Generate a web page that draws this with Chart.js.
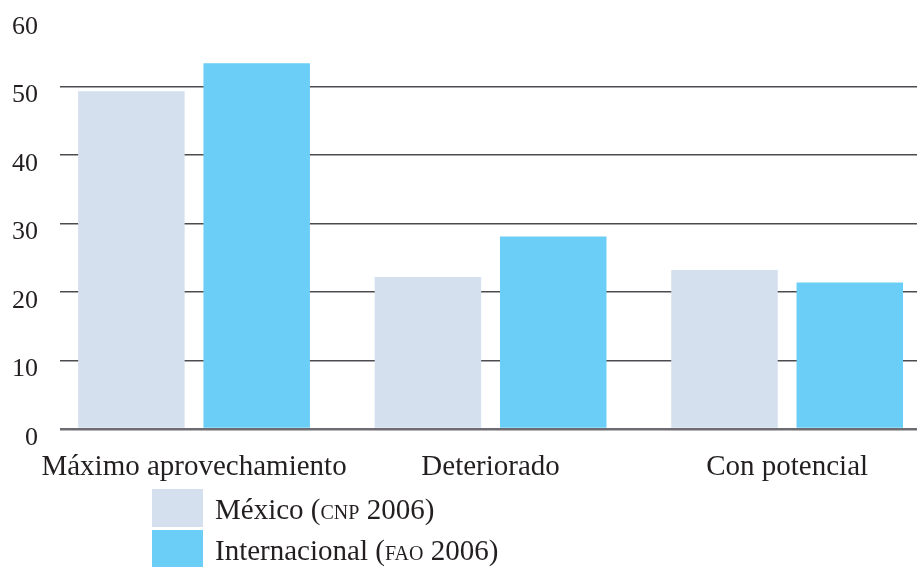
<!DOCTYPE html>
<html lang="es">
<head>
<meta charset="utf-8">
<title>Estado de las pesquerías</title>
<script src="https://cdn.jsdelivr.net/npm/chart.js@4/dist/chart.umd.min.js"></script>
<style>
  html, body { margin: 0; padding: 0; background: #ffffff; }
  #wrap { position: relative; width: 917px; height: 567px; overflow: hidden; }
  #legend {
    position: absolute; left: 152px; top: 489px;
    font-family: "Liberation Serif", "Times New Roman", serif;
    font-size: 29px; color: #231f20;
  }
  #legend .row { display: flex; align-items: center; height: 38px; margin-bottom: 3px; }
  #legend .box { width: 51px; height: 38px; margin-right: 12px; flex: none; }
  #legend .txt { line-height: 38px; white-space: nowrap; position: relative; top: 1px; }
  #legend .sc { font-variant: small-caps; }
</style>
</head>
<body>
<div id="wrap">
  <canvas id="chart" width="917" height="567"></canvas>
  <div id="legend"></div>
</div>
<script>
// Categories along the x axis
const categories = ['Máximo aprovechamiento', 'Deteriorado', 'Con potencial'];
// Percentage of fisheries in each state
const mexico = [49.3, 22.2, 23.2];
const internacional = [53.4, 28.1, 21.4];
// Series names
const seriesNames = ['México (CNP 2006)', 'Internacional (FAO 2006)'];
// Y axis ticks
const yTicks = [0, 10, 20, 30, 40, 50, 60];

const colors = ['#d4e0ee', '#6bcef6'];
const serif = '"Liberation Serif", "Times New Roman", serif';
const ink = '#231f20';

const toPoints = arr => arr.map((v, i) => ({ x: i, y: v }));

// Builds the legend below the chart from the datasets, source acronyms in small caps
const htmlLegend = {
  id: 'htmlLegend',
  afterUpdate(chart) {
    const host = document.getElementById('legend');
    host.innerHTML = '';
    chart.data.datasets.forEach(ds => {
      const row = document.createElement('div');
      row.className = 'row';
      const box = document.createElement('div');
      box.className = 'box';
      box.style.background = ds.backgroundColor;
      const txt = document.createElement('div');
      txt.className = 'txt';
      const parts = ds.label.split(/\b([A-Z]{2,})\b/);
      parts.forEach((p, k) => {
        if (k % 2 === 1) {
          const s = document.createElement('span');
          s.className = 'sc';
          s.textContent = p.toLowerCase();
          txt.appendChild(s);
        } else {
          txt.appendChild(document.createTextNode(p));
        }
      });
      row.appendChild(box);
      row.appendChild(txt);
      host.appendChild(row);
    });
  }
};

new Chart(document.getElementById('chart'), {
  type: 'bar',
  data: {
    datasets: [
      { label: seriesNames[0], data: toPoints(mexico), backgroundColor: colors[0], borderWidth: 0 },
      { label: seriesNames[1], data: toPoints(internacional), backgroundColor: colors[1], borderWidth: 0 }
    ]
  },
  options: {
    responsive: false,
    animation: false,
    devicePixelRatio: 1,
    categoryPercentage: 0.845,
    barPercentage: 0.85,
    layout: { padding: { top: 18, left: 0, right: 0, bottom: 0 } },
    plugins: {
      legend: { display: false },
      tooltip: { enabled: false }
    },
    scales: {
      x: {
        type: 'linear',
        offset: false,
        min: -0.452,
        max: 2.438,
        afterBuildTicks(scale) {
          scale.ticks = categories.map((_, i) => ({ value: i }));
        },
        afterFit(scale) {
          scale.height = 138;
          scale.paddingLeft = 0;
          scale.paddingRight = 0;
        },
        grid: { display: false, drawTicks: false, offset: false },
        border: { display: false },
        ticks: {
          autoSkip: false,
          maxRotation: 0,
          padding: 21,
          color: ink,
          font: { family: serif, size: 29 },
          callback: v => categories[v] ?? ''
        }
      },
      y: {
        min: 0,
        max: 60,
        afterBuildTicks(scale) {
          scale.ticks = yTicks.map(v => ({ value: v }));
        },
        afterFit(scale) {
          scale.width = 60;
          scale.paddingTop = 0;
          scale.paddingBottom = 0;
        },
        border: { display: false },
        grid: {
          drawTicks: false,
          color: ctx => ctx.tick.value === 60 ? 'rgba(0,0,0,0)' : (ctx.tick.value === 0 ? '#6e6c72' : '#4d4b4f'),
          lineWidth: ctx => ctx.tick.value === 0 ? 2.5 : 1.5
        },
        ticks: {
          padding: 22,
          labelOffset: 9,
          color: ink,
          font: { family: serif, size: 26 }
        }
      }
    }
  },
  plugins: [htmlLegend]
});
</script>
</body>
</html>
